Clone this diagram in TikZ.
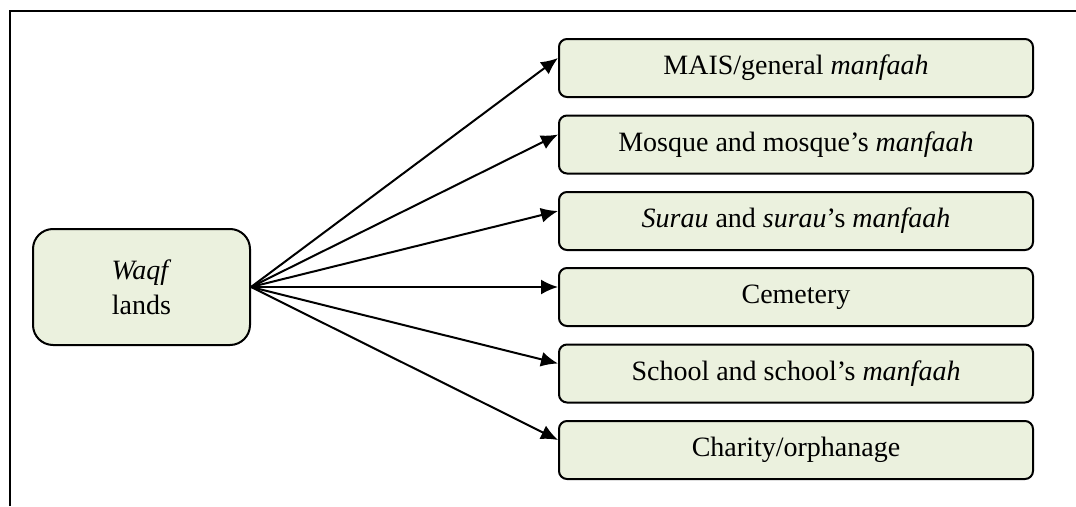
\documentclass[tikz,border=0pt]{standalone}
\usepackage{fontspec}
\setmainfont{Liberation Serif}
\usetikzlibrary{arrows.meta,positioning}
\definecolor{boxgreen}{RGB}{235,241,222}

\begin{document}
\begin{tikzpicture}[
                    >={Latex[length=17pt,width=15pt]},
                x=1pt, y=-1pt,
                font=\fontsize{28}{35}\selectfont,
                box/.style={draw, line width=2pt, fill=boxgreen, rounded corners=8pt,
                            minimum width=474pt, minimum height=58pt, inner sep=0pt}]

                \useasboundingbox (0,0) rectangle (1076,506);
                \draw[line width=2pt] (9.5,506) -- (9.5,11) -- (1076,11);

                \draw(141.5,287) node[box, rounded corners=20pt, minimum width=217pt,
                minimum height=116pt, align=center] (A) {\textit{Waqf}\\lands};

                \draw(796,68) node[box] (B) {MAIS/general \textit{manfaah}};
                \draw(796,144.5) node[box] (C) {Mosque and mosque’s \textit{manfaah}};
                \draw(796,221) node[box] (D) {\textit{Surau} and \textit{surau}’s \textit{manfaah}};
                \draw(796,297) node[box] (E) {Cemetery};
                \draw(796,373.5) node[box] (F) {School and school’s \textit{manfaah}};
                \draw(796,450) node[box] (G) {Charity/orphanage};

                \draw[->,line width=2pt] (A.east) to ([yshift=10pt]B.west);
                \draw[->,line width=2pt] (A.east) to ([yshift=10pt]C.west);
                \draw[->,line width=2pt] (A.east) to ([yshift=10pt]D.west);
                \draw[->,line width=2pt] (A.east) to ([yshift=10pt]E.west);
                \draw[->,line width=2pt] (A.east) to ([yshift=10pt]F.west);
                \draw[->,line width=2pt] (A.east) to ([yshift=10pt]G.west);

            \end{tikzpicture}
\end{document}
